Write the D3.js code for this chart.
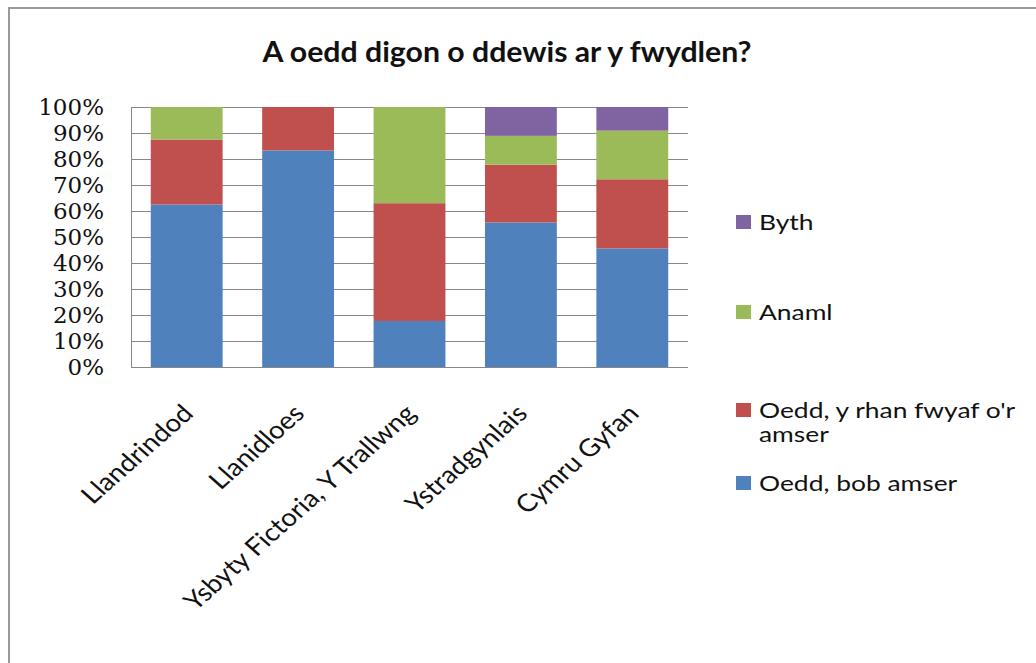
<!DOCTYPE html>
<html><head><meta charset="utf-8">
<script src="https://cdn.jsdelivr.net/npm/d3@7"></script>
<style>
html,body{margin:0;padding:0;background:#fff;}
svg{display:block;}
</style></head>
<body>
<svg id="chart" width="1036" height="663"></svg>
<script>
const title = "A oedd digon o ddewis ar y fwydlen?";
const categories = ["Llandrindod", "Llanidloes", "Ysbyty Fictoria, Y Trallwng", "Ystradgynlais", "Cymru Gyfan"];
const seriesNames = ["Oedd, bob amser", "Oedd, y rhan fwyaf o'r amser", "Anaml", "Byth"];
const seriesColors = ["#4F81BD", "#C0504D", "#9BBB59", "#8064A2"];
const bobAmser = [62.5, 83.3, 17.7, 55.6, 45.6];
const rhanFwyaf = [25.0, 16.7, 45.3, 22.2, 26.6];
const anaml = [12.5, 0.0, 37.0, 11.1, 18.7];
const byth = [0.0, 0.0, 0.0, 11.1, 9.1];
const yTicks = [0, 10, 20, 30, 40, 50, 60, 70, 80, 90, 100];

const seriesValues = [bobAmser, rhanFwyaf, anaml, byth];
const rows = categories.map((c, i) => {
  const r = {cat: c};
  seriesNames.forEach((s, j) => r[s] = seriesValues[j][i]);
  return r;
});

const SANS = "Lato, 'Noto Sans', sans-serif";
const svg = d3.select("#chart");
const plot = {left: 131, right: 688, top: 107, bottom: 367};

// outer chart border
svg.append("rect").attr("x", 9).attr("y", 8).attr("width", 1100).attr("height", 700)
  .attr("fill", "none").attr("stroke", "#9a9a9a").attr("stroke-width", 2);

// title (the reference is slightly stretched horizontally)
svg.append("text").attr("transform", "translate(507,62) scale(1.08,1)").attr("text-anchor", "middle")
  .style("font-family", SANS).style("font-size", "28px").style("font-weight", "bold")
  .attr("fill", "#111").text(title);

const x = d3.scaleBand().domain(categories).range([plot.left, plot.right])
  .paddingInner(0.355).paddingOuter(0.1775);
const y = d3.scaleLinear().domain([0, 100]).range([plot.bottom, plot.top]);

// y axis with gridlines
const yAxis = svg.append("g").attr("transform", `translate(${plot.left},0)`)
  .call(d3.axisLeft(y).tickValues(yTicks).tickSize(-(plot.right - plot.left)).tickSizeOuter(0)
    .tickPadding(27).tickFormat(d => d + "%"));
yAxis.selectAll(".tick line").attr("stroke", "#878787");
yAxis.select(".domain").attr("stroke", "#878787");
yAxis.selectAll(".tick text").style("font-family", "'DejaVu Serif', serif").style("font-size", "23px")
  .attr("fill", "#111");

// stacked bars
const stack = d3.stack().keys(seriesNames)(rows);
svg.append("g").selectAll("g").data(stack).join("g")
  .attr("fill", (d, i) => seriesColors[i])
  .selectAll("rect").data(d => d).join("rect")
  .attr("x", d => x(d.data.cat))
  .attr("width", x.bandwidth())
  .attr("y", d => y(d[1]))
  .attr("height", d => y(d[0]) - y(d[1]));

// bottom axis line
svg.append("line").attr("x1", plot.left).attr("x2", plot.right)
  .attr("y1", plot.bottom + 0.5).attr("y2", plot.bottom + 0.5).attr("stroke", "#878787");

// x labels
svg.append("g").selectAll("text").data(categories).join("text")
  .attr("transform", d => `translate(${x(d) + x.bandwidth() / 2 + 8},415) scale(1.13,1) rotate(-45)`)
  .attr("text-anchor", "end")
  .style("font-family", SANS).style("font-size", "24.5px")
  .attr("fill", "#111").text(d => d);

// legend (reverse order, as in reference)
const legendItems = [
  {name: "Byth", lines: ["Byth"], cy: 222},
  {name: "Anaml", lines: ["Anaml"], cy: 312},
  {name: "Oedd, y rhan fwyaf o'r amser", lines: ["Oedd, y rhan fwyaf o'r", "amser"], cy: 410},
  {name: "Oedd, bob amser", lines: ["Oedd, bob amser"], cy: 483}
];
const lg = svg.append("g").selectAll("g").data(legendItems).join("g");
lg.append("rect").attr("x", 736).attr("y", d => d.cy - 7).attr("width", 15).attr("height", 14)
  .attr("fill", d => seriesColors[seriesNames.indexOf(d.name)]);
lg.each(function(d) {
  const t = d3.select(this).append("text").attr("transform", `translate(759,${d.cy + 8}) scale(1.2,1)`)
    .style("font-family", SANS).style("font-size", "22px").attr("fill", "#111");
  d.lines.forEach((ln, i) => t.append("tspan").attr("x", 0).attr("dy", i ? 24 : 0).text(ln));
});
</script>
</body></html>
